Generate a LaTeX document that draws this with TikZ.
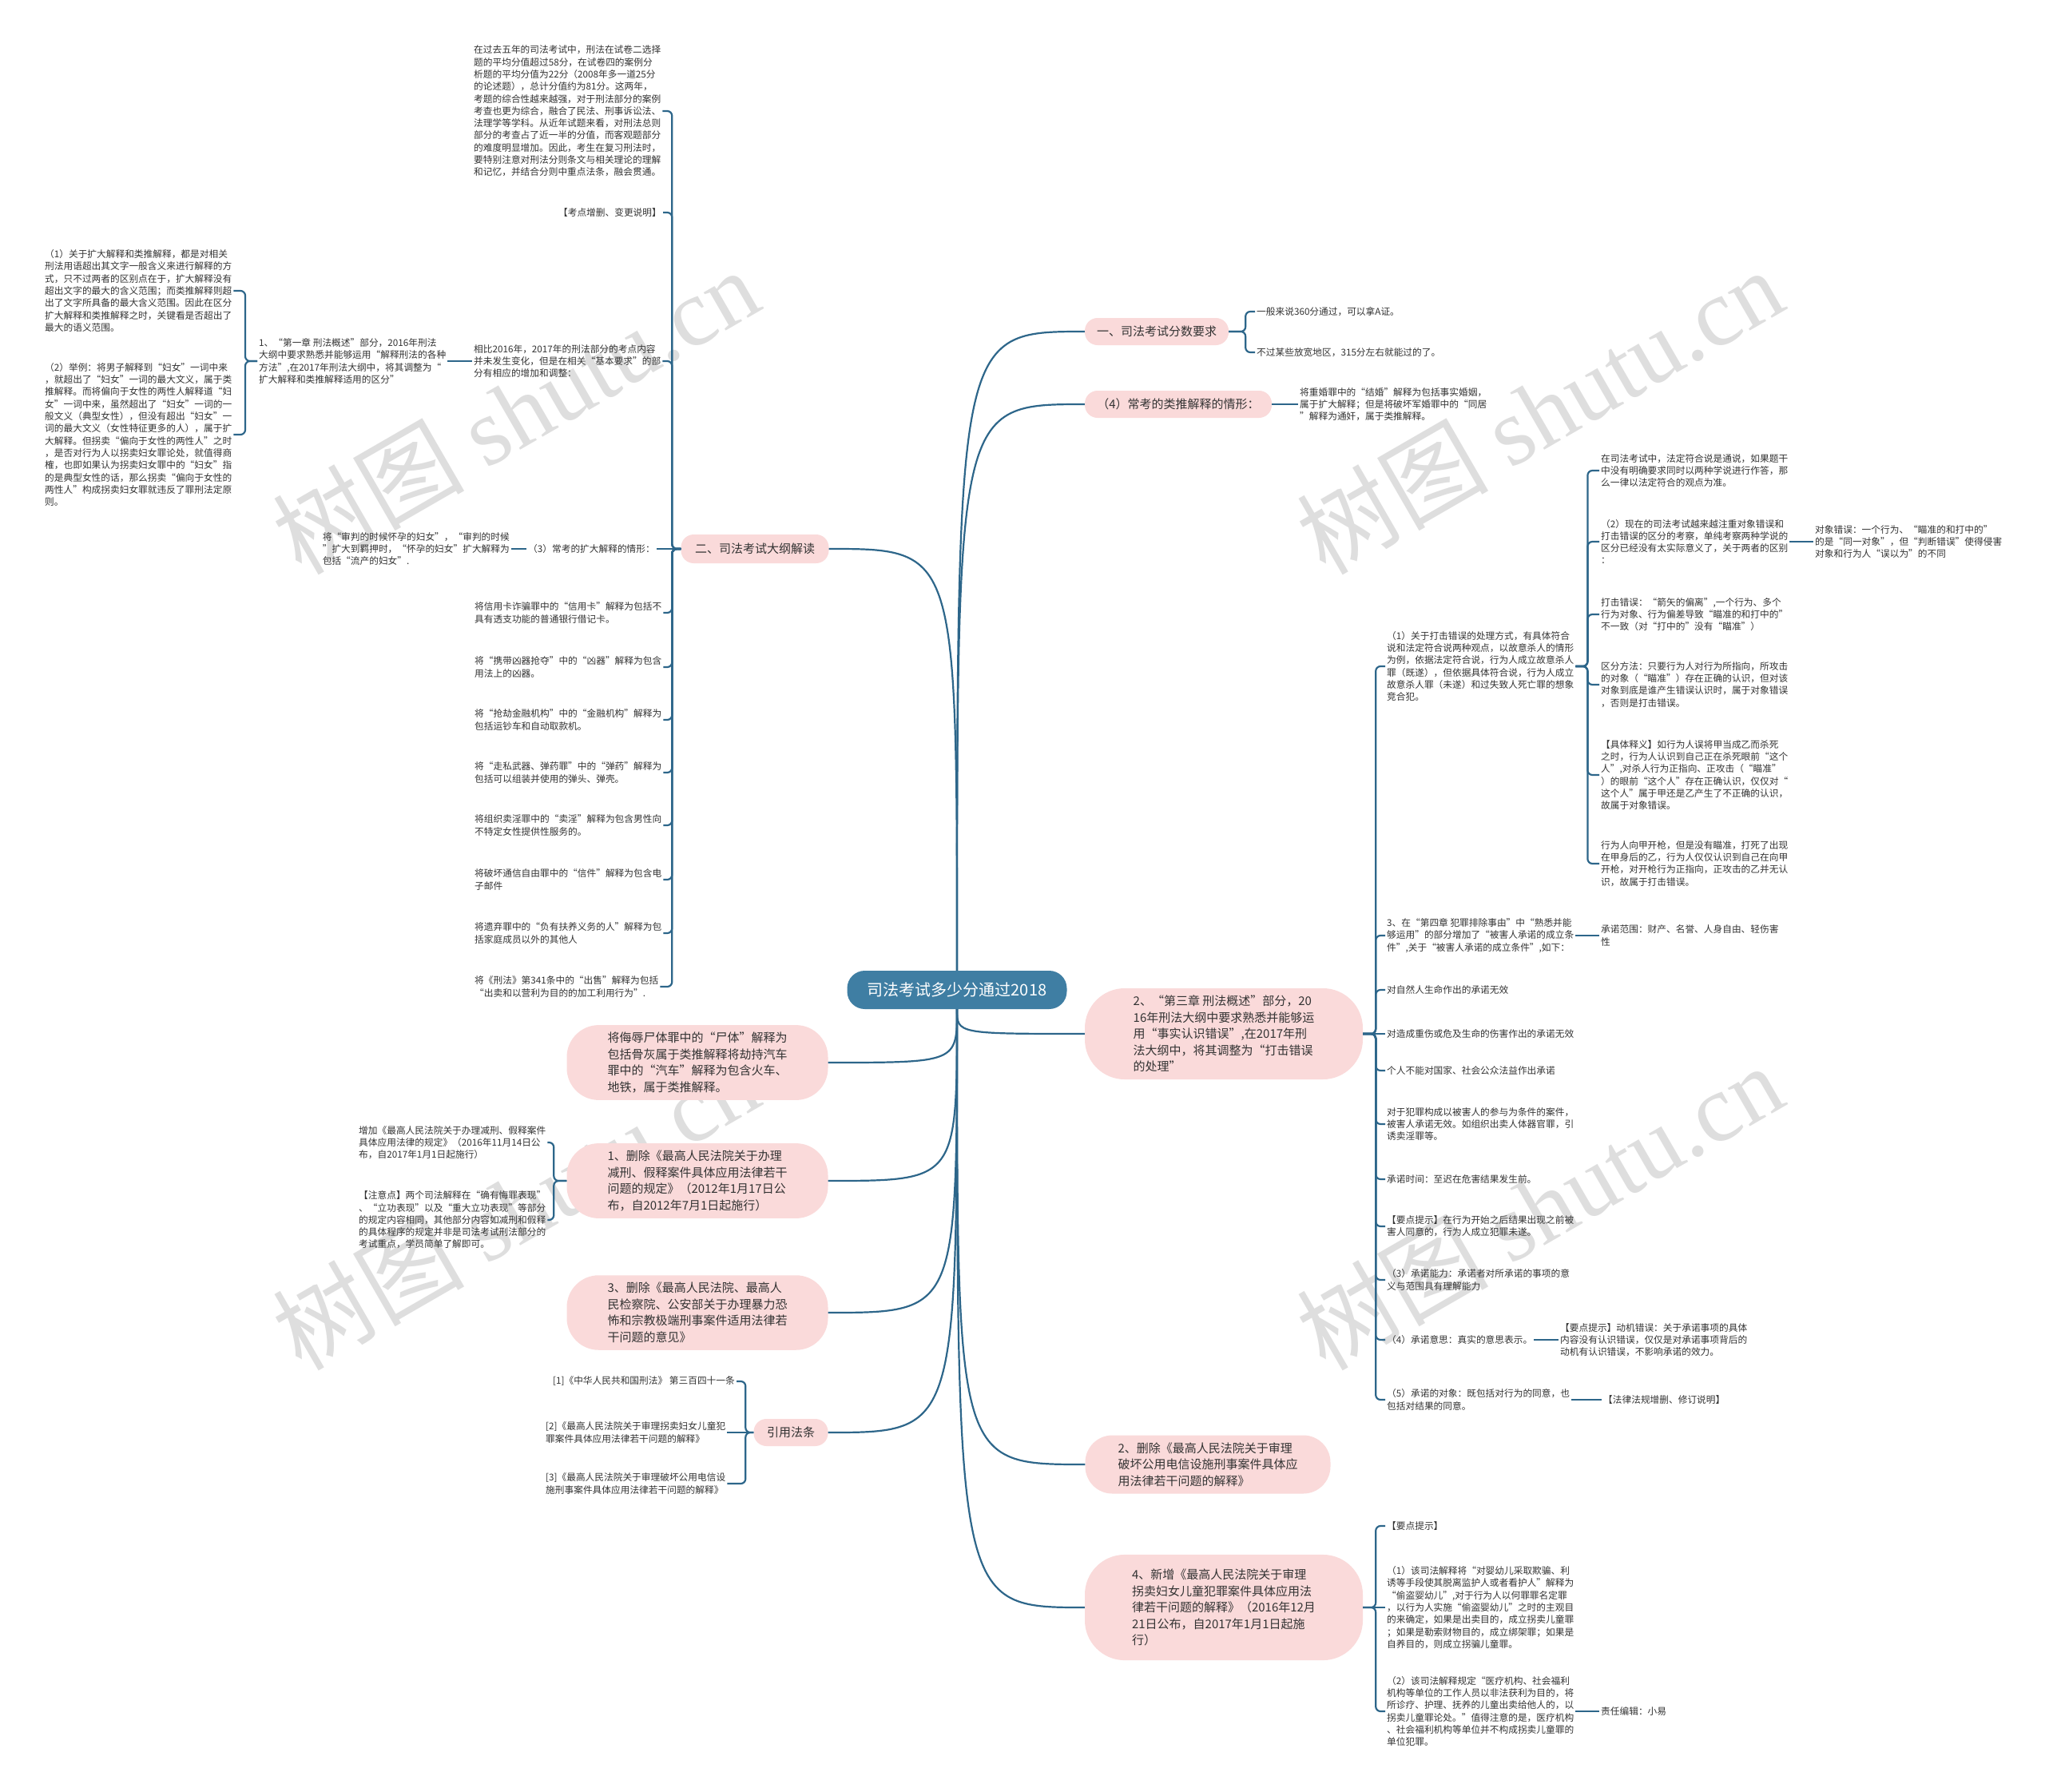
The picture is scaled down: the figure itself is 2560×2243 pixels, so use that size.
\documentclass[tikz,border=0pt]{standalone}
\usepackage{fontspec}
\setmainfont{Noto Sans CJK SC}
\newfontfamily\wmlatin{Liberation Serif}
\definecolor{rootblue}{RGB}{63,126,163}
\definecolor{pinkfill}{RGB}{250,218,218}
\definecolor{linkblue}{RGB}{45,102,138}
\definecolor{leafgray}{RGB}{51,51,51}
\definecolor{wmgray}{RGB}{222,222,222}
\newcommand{\leafsize}{\fontsize{11.7}{15.3}\selectfont}
\newcommand{\topicsize}{\fontsize{15}{20.5}\selectfont}
\newcommand{\rootsize}{\fontsize{20}{24}\selectfont}

\begin{document}
\begin{tikzpicture}[x=1pt, y=1pt,
    rootbox/.style={rectangle, rounded corners=22pt, fill=rootblue, text=white,
                    font=\rootsize, minimum width=275pt, minimum height=48pt, inner sep=0pt},
    topic/.style={rectangle, rounded corners=40pt, fill=pinkfill, text=leafgray,
                  font=\topicsize, align=left, inner xsep=10pt, inner ysep=9pt},
    tagbox/.style={topic, rounded corners=16pt, minimum height=34pt},
    leaf/.style={text=leafgray, font=\leafsize, align=left, inner sep=2pt},
    wmark/.style={rotate=30, text=wmgray, font=\fontsize{120}{120}\selectfont},
    linkline/.style={draw=linkblue, line width=2.2pt},
    fork/.style={linkline, rounded corners=6pt}
]
\useasboundingbox (0,0) rectangle (2560,-2243);
\fill[white] (0,0) rectangle (2560,-2243);
\foreach \wx/\wy [count=\i] in {645/514, 1927/514, 645/1510, 1927/1510}
    \node[wmark] (wm\i) at (\wx,-\wy) {树图 {\wmlatin shutu.cn}};

\node[rootbox] (root) at (1198,-1239) {司法考试多少分通过2018};

% right side
\node[tagbox, minimum width=180pt] (score) at (1448,-415) {一、司法考试分数要求};
\node[tagbox, minimum width=234pt] (analogy) at (1475,-506) {（4）常考的类推解释的情形：};
\node[topic, minimum width=348pt, rounded corners=50pt] (chapter3) at (1532,-1294) {2、“第三章 刑法概述”部分，20\\16年刑法大纲中要求熟悉并能够运\\用“事实认识错误”,在2017年刑\\法大纲中，将其调整为“打击错误\\的处理”};
\node[topic, minimum width=307pt, rounded corners=34pt] (telecom) at (1512,-1833) {2、删除《最高人民法院关于审理\\破坏公用电信设施刑事案件具体应\\用法律若干问题的解释》};
\node[topic, minimum width=348pt, rounded corners=50pt, inner ysep=18pt] (trafficking) at (1532,-2012) {4、新增《最高人民法院关于审理\\拐卖妇女儿童犯罪案件具体应用法\\律若干问题的解释》（2016年12月\\21日公布，自2017年1月1日起施\\行）};

\node[leaf, anchor=west] (pass360) at (1571,-390) {一般来说360分通过，可以拿A证。};
\node[leaf, anchor=west] (pass315) at (1571,-441) {不过某些放宽地区，315分左右就能过的了。};
\node[leaf, anchor=west] (bigamy) at (1625,-506) {将重婚罪中的“结婚”解释为包括事实婚姻，\\属于扩大解释；但是将破坏军婚罪中的“同居\\”解释为通奸，属于类推解释。};

\node[leaf, anchor=west] (hitmistake) at (1734,-834) {（1）关于打击错误的处理方式，有具体符合\\说和法定符合说两种观点，以故意杀人的情形\\为例，依据法定符合说，行为人成立故意杀人\\罪（既遂），但依据具体符合说，行为人成立\\故意杀人罪（未遂）和过失致人死亡罪的想象\\竞合犯。};
\node[leaf, anchor=west] (legalview) at (2002,-589) {在司法考试中，法定符合说是通说，如果题干\\中没有明确要求同时以两种学说进行作答，那\\么一律以法定符合的观点为准。};
\node[leaf, anchor=west] (distinguish) at (2002,-678) {（2）现在的司法考试越来越注重对象错误和\\打击错误的区分的考察，单纯考察两种学说的\\区分已经没有太实际意义了，关于两者的区别\\：};
\node[leaf, anchor=west] (objecterror) at (2270,-678) {对象错误：一个行为、“瞄准的和打中的”\\的是“同一对象”，但“判断错误”使得侵害\\对象和行为人“误以为”的不同};
\node[leaf, anchor=west] (hiterror) at (2002,-769) {打击错误：“箭矢的偏离”,一个行为、多个\\行为对象、行为偏差导致“瞄准的和打中的”\\不一致（对“打中的”没有“瞄准”）};
\node[leaf, anchor=west] (method) at (2002,-857) {区分方法：只要行为人对行为所指向，所攻击\\的对象（“瞄准”）存在正确的认识，但对该\\对象到底是谁产生错误认识时，属于对象错误\\，否则是打击错误。};
\node[leaf, anchor=west] (meaning) at (2002,-970) {【具体释义】如行为人误将甲当成乙而杀死\\之时，行为人认识到自己正在杀死眼前“这个\\人”,对杀人行为正指向、正攻击（“瞄准”\\）的眼前“这个人”存在正确认识，仅仅对“\\这个人”属于甲还是乙产生了不正确的认识，\\故属于对象错误。};
\node[leaf, anchor=west] (shooting) at (2002,-1081) {行为人向甲开枪，但是没有瞄准，打死了出现\\在甲身后的乙，行为人仅仅认识到自己在向甲\\开枪，对开枪行为正指向，正攻击的乙并无认\\识，故属于打击错误。};

\node[leaf, anchor=west] (consent) at (1734,-1171) {3、在“第四章 犯罪排除事由”中“熟悉并能\\够运用”的部分增加了“被害人承诺的成立条\\件”,关于“被害人承诺的成立条件”,如下：};
\node[leaf, anchor=west] (consentscope) at (2002,-1171) {承诺范围：财产、名誉、人身自由、轻伤害\\性};
\node[leaf, anchor=west] (lifeconsent) at (1734,-1239) {对自然人生命作出的承诺无效};
\node[leaf, anchor=west] (injuryconsent) at (1734,-1294) {对造成重伤或危及生命的伤害作出的承诺无效};
\node[leaf, anchor=west] (publicconsent) at (1734,-1340) {个人不能对国家、社会公众法益作出承诺};
\node[leaf, anchor=west] (participation) at (1734,-1407) {对于犯罪构成以被害人的参与为条件的案件，\\被害人承诺无效。如组织出卖人体器官罪，引\\诱卖淫罪等。};
\node[leaf, anchor=west] (consenttime) at (1734,-1476) {承诺时间：至迟在危害结果发生前。};
\node[leaf, anchor=west] (attempthint) at (1734,-1535) {【要点提示】在行为开始之后结果出现之前被\\害人同意的，行为人成立犯罪未遂。};
\node[leaf, anchor=west] (capacity) at (1734,-1602) {（3）承诺能力：承诺者对所承诺的事项的意\\义与范围具有理解能力};
\node[leaf, anchor=west] (intent) at (1734,-1677) {（4）承诺意思：真实的意思表示。};
\node[leaf, anchor=west] (motivehint) at (1951,-1677) {【要点提示】动机错误：关于承诺事项的具体\\内容没有认识错误，仅仅是对承诺事项背后的\\动机有认识错误，不影响承诺的效力。};
\node[leaf, anchor=west] (objectconsent) at (1734,-1752) {（5）承诺的对象：既包括对行为的同意，也\\包括对结果的同意。};
\node[leaf, anchor=west] (lawnote) at (2005,-1752) {【法律法规增删、修订说明】};

\node[leaf, anchor=west] (pointhint) at (1734,-1910) {【要点提示】};
\node[leaf, anchor=west] (infant) at (1734,-2012) {（1）该司法解释将“对婴幼儿采取欺骗、利\\诱等手段使其脱离监护人或者看护人”解释为\\“偷盗婴幼儿”,对于行为人以何罪罪名定罪\\，以行为人实施“偷盗婴幼儿”之时的主观目\\的来确定，如果是出卖目的，成立拐卖儿童罪\\；如果是勒索财物目的，成立绑架罪；如果是\\自养目的，则成立拐骗儿童罪。};
\node[leaf, anchor=west] (welfare) at (1734,-2142) {（2）该司法解释规定“医疗机构、社会福利\\机构等单位的工作人员以非法获利为目的，将\\所诊疗、护理、抚养的儿童出卖给他人的，以\\拐卖儿童罪论处。”值得注意的是，医疗机构\\、社会福利机构等单位并不构成拐卖儿童罪的\\单位犯罪。};
\node[leaf, anchor=west] (editor) at (2002,-2142) {责任编辑：小易};

% left side
\node[tagbox, minimum width=185pt, minimum height=36pt] (outline) at (945,-687) {二、司法考试大纲解读};
\node[topic, minimum width=327pt] (corpse) at (873,-1330) {将侮辱尸体罪中的“尸体”解释为\\包括骨灰属于类推解释将劫持汽车\\罪中的“汽车”解释为包含火车、\\地铁，属于类推解释。};
\node[topic, minimum width=327pt] (commute) at (873,-1478) {1、删除《最高人民法院关于办理\\减刑、假释案件具体应用法律若干\\问题的规定》（2012年1月17日公\\布，自2012年7月1日起施行）};
\node[topic, minimum width=327pt] (terror) at (873,-1643) {3、删除《最高人民法院、最高人\\民检察院、公安部关于办理暴力恐\\怖和宗教极端刑事案件适用法律若\\干问题的意见》};
\node[tagbox, minimum width=93pt] (cite) at (990,-1793) {引用法条};

\node[leaf, anchor=west] (fiveyears) at (591,-139) {在过去五年的司法考试中，刑法在试卷二选择\\题的平均分值超过58分，在试卷四的案例分\\析题的平均分值为22分（2008年多一道25分\\的论述题），总计分值约为81分。这两年，\\考题的综合性越来越强，对于刑法部分的案例\\考查也更为综合，融合了民法、刑事诉讼法、\\法理学等学科。从近年试题来看，对刑法总则\\部分的考查占了近一半的分值，而客观题部分\\的难度明显增加。因此，考生在复习刑法时，\\要特别注意对刑法分则条文与相关理论的理解\\和记忆，并结合分则中重点法条，融会贯通。};
\node[leaf, anchor=east] (changenote) at (830,-266) {【考点增删、变更说明】};
\node[leaf, anchor=west] (compare) at (591,-452) {相比2016年，2017年的刑法部分的考点内容\\并未发生变化，但是在相关“基本要求”的部\\分有相应的增加和调整：};
\node[leaf, anchor=west] (chapterone) at (322,-452) {1、“第一章 刑法概述”部分，2016年刑法\\大纲中要求熟悉并能够运用“解释刑法的各种\\方法”,在2017年刑法大纲中，将其调整为“\\扩大解释和类推解释适用的区分”};
\node[leaf, anchor=west] (extend) at (54,-364) {（1）关于扩大解释和类推解释，都是对相关\\刑法用语超出其文字一般含义来进行解释的方\\式，只不过两者的区别点在于，扩大解释没有\\超出文字的最大的含义范围；而类推解释则超\\出了文字所具备的最大含义范围。因此在区分\\扩大解释和类推解释之时，关键看是否超出了\\最大的语义范围。};
\node[leaf, anchor=west] (example) at (54,-544) {（2）举例：将男子解释到“妇女”一词中来\\，就超出了“妇女”一词的最大文义，属于类\\推解释。而将偏向于女性的两性人解释道“妇\\女”一词中来，虽然超出了“妇女”一词的一\\般文义（典型女性），但没有超出“妇女”一\\词的最大文义（女性特征更多的人），属于扩\\大解释。但拐卖“偏向于女性的两性人”之时\\，是否对行为人以拐卖妇女罪论处，就值得商\\榷，也即如果认为拐卖妇女罪中的“妇女”指\\的是典型女性的话，那么拐卖“偏向于女性的\\两性人”构成拐卖妇女罪就违反了罪刑法定原\\则。};
\node[leaf, anchor=east] (commonextend) at (822,-687) {（3）常考的扩大解释的情形：};
\node[leaf, anchor=east] (pregnant) at (640,-687) {将“审判的时候怀孕的妇女”，“审判的时候\\”扩大到羁押时，“怀孕的妇女”扩大解释为\\包括“流产的妇女”.};
\node[leaf, anchor=west] (creditcard) at (592,-767) {将信用卡诈骗罪中的“信用卡”解释为包括不\\具有透支功能的普通银行借记卡。};
\node[leaf, anchor=west] (weapon) at (592,-835) {将“携带凶器抢夺”中的“凶器”解释为包含\\用法上的凶器。};
\node[leaf, anchor=west] (bank) at (592,-901) {将“抢劫金融机构”中的“金融机构”解释为\\包括运钞车和自动取款机。};
\node[leaf, anchor=west] (ammo) at (592,-967) {将“走私武器、弹药罪”中的“弹药”解释为\\包括可以组装并使用的弹头、弹壳。};
\node[leaf, anchor=west] (prostitution) at (592,-1033) {将组织卖淫罪中的“卖淫”解释为包含男性向\\不特定女性提供性服务的。};
\node[leaf, anchor=west] (letter) at (592,-1101) {将破坏通信自由罪中的“信件”解释为包含电\\子邮件};
\node[leaf, anchor=west] (abandon) at (592,-1168) {将遗弃罪中的“负有扶养义务的人”解释为包\\括家庭成员以外的其他人};
\node[leaf, anchor=west] (sale) at (592,-1235) {将《刑法》第341条中的“出售”解释为包括\\“出卖和以营利为目的的加工利用行为”.};

\node[leaf, anchor=west] (addrule) at (447,-1430) {增加《最高人民法院关于办理减刑、假释案件\\具体应用法律的规定》（2016年11月14日公\\布，自2017年1月1日起施行）};
\node[leaf, anchor=west] (notepoint) at (447,-1527) {【注意点】两个司法解释在“确有悔罪表现”\\、“立功表现”以及“重大立功表现”等部分\\的规定内容相同，其他部分内容如减刑和假释\\的具体程序的规定并非是司法考试刑法部分的\\考试重点，学员简单了解即可。};
\node[leaf, anchor=east] (criminallaw) at (922,-1729) {[1]《中华人民共和国刑法》 第三百四十一条};
\node[leaf, anchor=west] (childtrafficking) at (681,-1793) {[2]《最高人民法院关于审理拐卖妇女儿童犯\\罪案件具体应用法律若干问题的解释》};
\node[leaf, anchor=west] (telecomlaw) at (681,-1857) {[3]《最高人民法院关于审理破坏公用电信设\\施刑事案件具体应用法律若干问题的解释》};

% root to main topics
\draw[linkline] (root.north) .. controls (root.north |- score.west) .. (score.west);
\draw[linkline] (root.north) .. controls (root.north |- analogy.west) .. (analogy.west);
\draw[linkline] (root.north) .. controls (root.north |- outline.east) .. (outline.east);
\draw[linkline] (root.south) .. controls (root.south |- chapter3.west) .. (chapter3.west);
\draw[linkline] (root.south) .. controls (root.south |- telecom.west) .. (telecom.west);
\draw[linkline] (root.south) .. controls (root.south |- trafficking.west) .. (trafficking.west);
\draw[linkline] (root.south) .. controls (root.south |- corpse.east) .. (corpse.east);
\draw[linkline] (root.south) .. controls (root.south |- commute.east) .. (commute.east);
\draw[linkline] (root.south) .. controls (root.south |- terror.east) .. (terror.east);
\draw[linkline] (root.south) .. controls (root.south |- cite.east) .. (cite.east);

% right branches
\draw[fork] (score.east) -- ++(21,0) |- (pass360.west);
\draw[fork] (score.east) -- ++(21,0) |- (pass315.west);
\draw[linkline] (analogy.east) -- (bigamy.west);
\draw[fork] (chapter3.east) -- ++(16,0) |- (hitmistake.west);
\draw[fork] (chapter3.east) -- ++(16,0) |- (consent.west);
\draw[fork] (chapter3.east) -- ++(16,0) |- (lifeconsent.west);
\draw[linkline] (chapter3.east) -- (injuryconsent.west);
\draw[fork] (chapter3.east) -- ++(16,0) |- (publicconsent.west);
\draw[fork] (chapter3.east) -- ++(16,0) |- (participation.west);
\draw[fork] (chapter3.east) -- ++(16,0) |- (consenttime.west);
\draw[fork] (chapter3.east) -- ++(16,0) |- (attempthint.west);
\draw[fork] (chapter3.east) -- ++(16,0) |- (capacity.west);
\draw[fork] (chapter3.east) -- ++(16,0) |- (intent.west);
\draw[fork] (chapter3.east) -- ++(16,0) |- (objectconsent.west);
\draw[fork] (hitmistake.east) -- ++(15,0) |- (legalview.west);
\draw[fork] (hitmistake.east) -- ++(15,0) |- (distinguish.west);
\draw[fork] (hitmistake.east) -- ++(15,0) |- (hiterror.west);
\draw[fork] (hitmistake.east) -- ++(15,0) |- (method.west);
\draw[fork] (hitmistake.east) -- ++(15,0) |- (meaning.west);
\draw[fork] (hitmistake.east) -- ++(15,0) |- (shooting.west);
\draw[linkline] (distinguish.east) -- (objecterror.west);
\draw[linkline] (consent.east) -- (consentscope.west);
\draw[linkline] (intent.east) -- (motivehint.west);
\draw[linkline] (objectconsent.east) -- (lawnote.west);
\draw[fork] (trafficking.east) -- ++(16,0) |- (pointhint.west);
\draw[linkline] (trafficking.east) -- (infant.west);
\draw[fork] (trafficking.east) -- ++(16,0) |- (welfare.west);
\draw[linkline] (welfare.east) -- (editor.west);

% left branches
\draw[fork] (outline.west) -- ++(-11,0) |- (fiveyears.east);
\draw[fork] (outline.west) -- ++(-11,0) |- (changenote.east);
\draw[fork] (outline.west) -- ++(-11,0) |- (compare.east);
\draw[linkline] (outline.west) -- (commonextend.east);
\draw[fork] (outline.west) -- ++(-11,0) |- (creditcard.east);
\draw[fork] (outline.west) -- ++(-11,0) |- (weapon.east);
\draw[fork] (outline.west) -- ++(-11,0) |- (bank.east);
\draw[fork] (outline.west) -- ++(-11,0) |- (ammo.east);
\draw[fork] (outline.west) -- ++(-11,0) |- (prostitution.east);
\draw[fork] (outline.west) -- ++(-11,0) |- (letter.east);
\draw[fork] (outline.west) -- ++(-11,0) |- (abandon.east);
\draw[fork] (outline.west) -- ++(-11,0) |- (sale.east);
\draw[linkline] (compare.west) -- (chapterone.east);
\draw[fork] (chapterone.west) -- ++(-15,0) |- (extend.east);
\draw[fork] (chapterone.west) -- ++(-15,0) |- (example.east);
\draw[linkline] (commonextend.west) -- (pregnant.east);
\draw[fork] (commute.west) -- ++(-16,0) |- (addrule.east);
\draw[fork] (commute.west) -- ++(-16,0) |- (notepoint.east);
\draw[fork] (cite.west) -- ++(-10,0) |- (criminallaw.east);
\draw[linkline] (cite.west) -- (childtrafficking.east);
\draw[fork] (cite.west) -- ++(-10,0) |- (telecomlaw.east);
\end{tikzpicture}
\end{document}
